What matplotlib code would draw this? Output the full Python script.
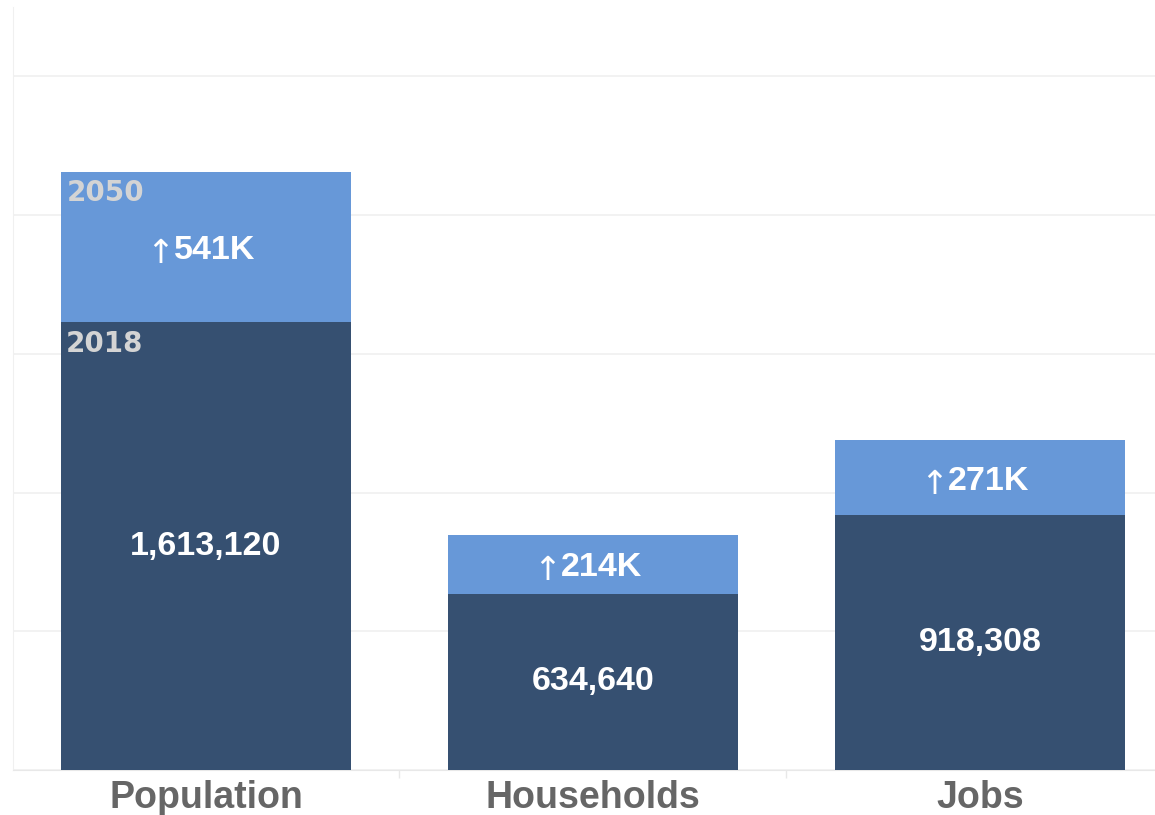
import numpy as np
import matplotlib.pyplot as plt
from matplotlib.ticker import FixedLocator

categories = ["Population", "Households", "Jobs"]
base_2018 = [1613120, 634640, 918308]
growth_2050 = [541000, 214000, 271000]
growth_labels = ["541K", "214K", "271K"]

DARK = "#365071"
LIGHT = "#6798d8"
GRID = "#f0f0f0"
FONT = ["Liberation Sans", "DejaVu Sans"]

fig = plt.figure(figsize=(11.55, 8.15), dpi=100)
ax = fig.add_axes([12.5 / 1155, 45 / 815, 1 - 12.5 / 1155, 763 / 815])

x = np.arange(len(categories))
w = 0.75
ax.bar(x, base_2018, width=w, color=DARK, zorder=3)
ax.bar(x, growth_2050, width=w, bottom=base_2018, color=LIGHT, zorder=3)

ax.set_xlim(-0.5, -0.5 + (1155 - 12.5) / 387)
ax.set_ylim(0, 2750000)
ax.set_yticks(np.arange(0, 2500001, 500000))
ax.yaxis.grid(True, color=GRID, linewidth=1.2, zorder=0)
ax.tick_params(axis="y", left=False, labelleft=False)

ax.set_xticks(x)
ax.set_xticklabels(categories, fontsize=27, fontweight="bold", color="#666666", family=FONT)
ax.tick_params(axis="x", length=0, pad=7)
ax.xaxis.set_minor_locator(FixedLocator([0.5, 1.5]))
ax.tick_params(axis="x", which="minor", length=6, color="#e8e8e8", width=1)

for s in ["top", "right"]:
    ax.spines[s].set_visible(False)
ax.spines["left"].set_color(GRID)
ax.spines["bottom"].set_color("#e8e8e8")

for i in range(len(categories)):
    b = base_2018[i]
    g = growth_2050[i]
    ax.text(x[i], b / 2, f"{b:,}", ha="center", va="center", color="white",
            fontsize=24.5, fontweight="bold", family=FONT, zorder=4)
    # thin tall arrow, then the bold number
    ax.annotate(growth_labels[i], xy=(x[i], b + g / 2), xytext=(9, 0),
                textcoords="offset pixels", ha="center", va="center_baseline", color="white",
                fontsize=24.5, fontweight="bold", family=FONT, zorder=4)
    ax.annotate("\u2191", xy=(x[i], b + g / 2), xytext=(-46, -3),
                textcoords="offset pixels", ha="center", va="center_baseline", color="white",
                fontsize=24, family="DejaVu Sans", zorder=4)

# year tags on the first bar
ax.annotate("2050", xy=(x[0] - w / 2, base_2018[0] + growth_2050[0]), xytext=(6, -7),
            textcoords="offset pixels", ha="left", va="top", color="#d4d4d4",
            fontsize=20, fontweight="bold", zorder=4)
ax.annotate("2018", xy=(x[0] - w / 2, base_2018[0]), xytext=(5, -8),
            textcoords="offset pixels", ha="left", va="top", color="#d4d4d4",
            fontsize=20, fontweight="bold", zorder=4)

plt.savefig("out.png", dpi=100, facecolor="white")
